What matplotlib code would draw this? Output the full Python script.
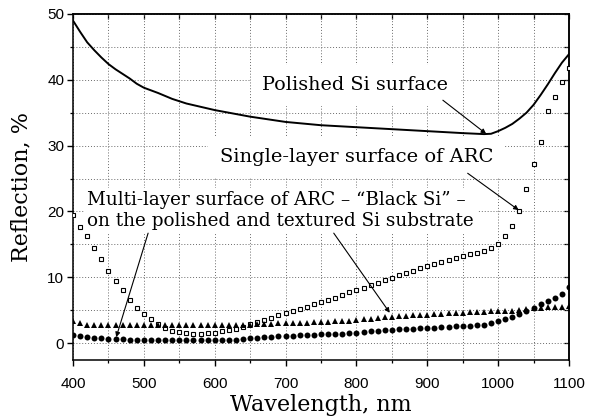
import matplotlib
matplotlib.use("Agg")
import matplotlib.pyplot as plt
from matplotlib.ticker import MultipleLocator

# ---------------- data ----------------
wl_markers = list(range(400, 1101, 10))

single_layer = [19.5, 17.7, 16.3, 14.4, 12.8, 11.0, 9.4, 8.0, 6.6, 5.4,
                4.4, 3.6, 2.9, 2.3, 1.9, 1.7, 1.5, 1.4, 1.3, 1.5,
                1.6, 1.8, 2.0, 2.2, 2.5, 2.9, 3.2, 3.5, 3.8, 4.2,
                4.5, 4.9, 5.2, 5.5, 5.9, 6.3, 6.6, 6.9, 7.3, 7.7,
                8.1, 8.4, 8.8, 9.2, 9.6, 9.9, 10.3, 10.7, 11.0, 11.4,
                11.7, 12.0, 12.3, 12.6, 12.9, 13.3, 13.5, 13.7, 14.0, 14.4,
                15.1, 16.3, 17.8, 20.1, 23.4, 27.2, 30.6, 35.3, 37.4, 39.7,
                41.8]

multi_polished = [3.4, 3.1, 2.7, 2.7, 2.7, 2.7, 2.7, 2.7, 2.7, 2.7,
                  2.7, 2.7, 2.7, 2.7, 2.7, 2.7, 2.7, 2.7, 2.7, 2.7,
                  2.7, 2.7, 2.7, 2.7, 2.7, 2.8, 2.85, 2.9, 2.95, 3.0,
                  3.0, 3.05, 3.1, 3.1, 3.15, 3.2, 3.2, 3.3, 3.35, 3.4,
                  3.5, 3.6, 3.7, 3.8, 3.9, 4.0, 4.05, 4.1, 4.2, 4.25,
                  4.3, 4.35, 4.4, 4.5, 4.55, 4.6, 4.65, 4.7, 4.75, 4.8,
                  4.8, 4.85, 4.9, 5.0, 5.1, 5.25, 5.4, 5.45, 5.5, 5.5,
                  5.6]

multi_textured = [1.2, 1.05, 0.9, 0.8, 0.7, 0.65, 0.6, 0.55, 0.5, 0.45,
                  0.45, 0.45, 0.45, 0.45, 0.45, 0.45, 0.45, 0.45, 0.45, 0.45,
                  0.45, 0.45, 0.45, 0.5, 0.6, 0.7, 0.78, 0.85, 0.92, 1.0,
                  1.05, 1.1, 1.15, 1.2, 1.25, 1.3, 1.3, 1.36, 1.45, 1.52,
                  1.6, 1.68, 1.76, 1.84, 1.92, 2.0, 2.07, 2.14, 2.2, 2.25,
                  2.3, 2.36, 2.42, 2.48, 2.54, 2.6, 2.66, 2.72, 2.8, 3.0,
                  3.3, 3.6, 3.95, 4.4, 4.9, 5.4, 5.9, 6.4, 6.9, 7.5,
                  8.5]

wl_polished = [400, 410, 420, 430, 440, 450, 460, 470, 480, 490, 500, 510, 520,
               540, 560, 580, 600, 625, 650, 675, 700, 750, 800, 850, 900, 950,
               980, 990, 1000, 1010, 1020, 1030, 1040, 1050, 1060, 1070, 1080,
               1090, 1100]
polished = [49.0, 47.3, 45.7, 44.5, 43.4, 42.4, 41.6, 40.9, 40.2, 39.4, 38.8,
            38.4, 38.0, 37.1, 36.4, 35.9, 35.4, 34.9, 34.4, 34.0, 33.6, 33.1,
            32.8, 32.5, 32.2, 31.9, 31.75, 31.8, 32.2, 32.7, 33.3, 34.1, 35.0,
            36.2, 37.7, 39.3, 41.0, 42.6, 43.9]

x_ticks = [400, 500, 600, 700, 800, 900, 1000, 1100]
y_ticks = [0, 10, 20, 30, 40, 50]

label_polished = "Polished Si surface"
label_single = "Single-layer surface of ARC"
label_multi = "Multi-layer surface of ARC – \u201cBlack Si\u201d –\non the polished and textured Si substrate"

# ---------------- figure ----------------
fig = plt.figure(figsize=(5.92, 4.19), dpi=100)
ax = fig.add_axes([73 / 592, 1 - 359.5 / 419, 496 / 592, 345.5 / 419])

serif = "DejaVu Serif"
sans = "Liberation Sans"

ax.set_xlim(400, 1100)
ax.set_ylim(-2.5, 50)

ax.xaxis.set_major_locator(MultipleLocator(100))
ax.xaxis.set_minor_locator(MultipleLocator(50))
ax.yaxis.set_major_locator(MultipleLocator(10))
ax.yaxis.set_minor_locator(MultipleLocator(5))
ax.set_xticks(x_ticks)
ax.set_yticks(y_ticks)

ax.grid(True, which="both", color="#6a6a6a", linestyle=(0, (1, 2)), linewidth=0.7)
ax.set_axisbelow(True)

for s in ax.spines.values():
    s.set_linewidth(1.1)

ax.tick_params(which="major", direction="out", length=4.3, width=1.0,
               labelsize=11)
ax.tick_params(axis="x", which="major", pad=8)
ax.tick_params(axis="y", which="major", pad=2)
ax.tick_params(which="minor", direction="out", length=2.2, width=0.9)
for lab in ax.get_xticklabels() + ax.get_yticklabels():
    lab.set_fontfamily(sans)

# top/right inward ticks
secx = ax.secondary_xaxis("top")
secx.xaxis.set_major_locator(MultipleLocator(100))
secx.xaxis.set_minor_locator(MultipleLocator(50))
secx.tick_params(which="both", direction="in", labeltop=False, length=3.5, width=0.9)
secx.spines["top"].set_linewidth(1.1)
secy = ax.secondary_yaxis("right")
secy.yaxis.set_major_locator(MultipleLocator(10))
secy.yaxis.set_minor_locator(MultipleLocator(5))
secy.tick_params(which="both", direction="in", labelright=False, length=3.5, width=0.9)
secy.spines["right"].set_linewidth(1.1)

# data
ax.plot(wl_polished, polished, color="black", lw=1.4, zorder=4)
ax.plot(wl_markers, single_layer, linestyle="none", marker="s", markersize=3.0,
        markerfacecolor="white", markeredgecolor="black", markeredgewidth=0.8, zorder=4)
ax.plot(wl_markers, multi_polished, linestyle="none", marker="^", markersize=5.0,
        color="black", markeredgewidth=0, zorder=4)
ax.plot(wl_markers, multi_textured, linestyle="none", marker="o", markersize=4.3,
        color="black", markeredgewidth=0, zorder=4)

# labels
ax.set_xlabel("Wavelength, nm", fontfamily=serif, fontsize=16)
ax.set_ylabel("Reflection, %", fontfamily=serif, fontsize=16)
ax.xaxis.set_label_coords(0.5, -0.132)
ax.yaxis.label.set_va("center")
ax.xaxis.label.set_va("center")
ax.yaxis.set_label_coords(-0.103, 0.5)

box = dict(boxstyle="square,pad=0.6", facecolor="white", edgecolor="none")
ax.text(798, 39.2, label_polished, ha="center", va="center", fontfamily=serif,
        fontsize=13.8, bbox=box, zorder=3)
ax.text(800, 28.3, label_single, ha="center", va="center", fontfamily=serif,
        fontsize=14, bbox=box, zorder=3)
ax.text(420, 20.1, label_multi, ha="left", va="center", fontfamily=serif,
        fontsize=13.2, linespacing=1.2, multialignment="left",
        bbox=dict(boxstyle="square,pad=0.2", facecolor="white", edgecolor="none"),
        zorder=3)

arrow = dict(arrowstyle="-|>", color="black", lw=0.8, mutation_scale=7,
             shrinkA=0, shrinkB=0)
ax.annotate("", xy=(983, 31.8), xytext=(922, 36.9), arrowprops=arrow, zorder=5)
ax.annotate("", xy=(1029, 20.2), xytext=(957, 25.8), arrowprops=arrow, zorder=5)
ax.annotate("", xy=(461, 0.9), xytext=(506, 16.7), arrowprops=arrow, zorder=5)
ax.annotate("", xy=(847, 4.6), xytext=(768, 16.7), arrowprops=arrow, zorder=5)

fig.savefig("out.png", dpi=100)
